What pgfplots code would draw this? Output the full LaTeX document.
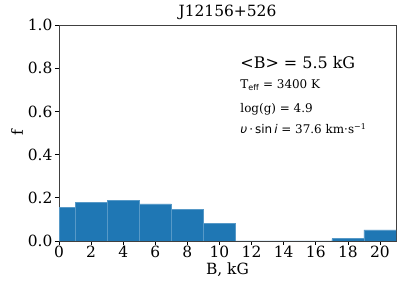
\documentclass[border=0pt]{standalone}
\usepackage{pgfplots}
\pgfplotsset{compat=1.18}
\usepackage{fontspec}
\setmainfont{DejaVu Serif}
\newfontfamily\dvs{DejaVu Sans}
\definecolor{tabblue}{HTML}{1F77B4}
\begin{document}
\begin{tikzpicture}[x=1bp,y=1bp]
\begin{axis}[
  at={(59bp,50bp)}, anchor=south west,
  scale only axis, width=337bp, height=216bp,
  xmin=0, xmax=21, ymin=0, ymax=1,
  xtick={0,2,...,20}, ytick={0,0.2,...,1.0},
  yticklabel style={xshift=1bp, /pgf/number format/.cd, fixed, fixed zerofill, precision=1},
  /pgf/number format/assume math mode=true,
  tick align=outside, tick pos=left,
  major tick length=4bp,
  tick style={black, line width=0.6pt},
  axis line style={black!75, line width=0.8pt},
  ticklabel style={font=\fontsize{15.5}{17}\selectfont},
  xticklabel style={yshift=2bp},
  xlabel={B, kG}, ylabel={f},
  label style={font=\fontsize{15.5}{17}\selectfont},
  xlabel style={at={(rel axis cs:0.5,0)}, anchor=center, yshift=-29bp},
  ylabel style={at={(rel axis cs:0,0.5)}, anchor=center, yshift=42bp},
  title={J12156+526},
  title style={font=\fontsize{15.5}{17}\selectfont, at={(rel axis cs:0.5,1)}, anchor=center, yshift=7bp},
]
\addplot[ybar interval, fill=tabblue, draw=tabblue!75!white, line width=0.35pt] coordinates {
(0,0.156) (1,0.180) (3,0.187) (5,0.172) (7,0.148) (9,0.083) (11,0) (17,0.011) (19,0.052) (21,0.052)
};
\node[anchor=west, font=\fontsize{16}{18}\selectfont] at (rel axis cs:0.528,0.824) {<B> = 5.5 kG};
\node[anchor=west, font=\fontsize{12}{14}\selectfont] at (rel axis cs:0.528,0.722) {T\textsubscript{\dvs eff} = 3400 K};
\node[anchor=west, font=\fontsize{12}{14}\selectfont] at (rel axis cs:0.528,0.611) {log(g) = 4.9};
\node[anchor=west, font=\fontsize{12}{14}\selectfont] at (rel axis cs:0.528,0.519) {{\dvs\itshape υ}\,{\dvs·}\,{\dvs sin}\,{\dvs\itshape i} = 37.6 km·s\textsuperscript{−1}};
\end{axis}
\pgfresetboundingbox
\path (0,0) rectangle (407,291);
\end{tikzpicture}
\end{document}
